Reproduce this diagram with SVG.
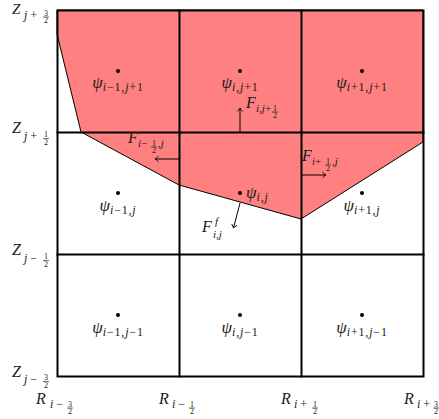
<svg xmlns="http://www.w3.org/2000/svg" width="439" height="419" viewBox="0 0 439 419">
<style>
text{font-family:"Liberation Serif","DejaVu Serif",serif;fill:#1a1a1a}
.m{font-size:17px;font-style:italic}
.z{font-size:16px;font-style:italic}
.f{font-size:16px;font-style:italic}
.s{font-size:12px;font-style:normal}
.sp{font-size:12px;font-style:normal;letter-spacing:0.8px}
.sf{font-size:11px;font-style:normal}
.i{font-style:italic}
.d{font-size:8px;font-style:normal;text-anchor:middle}
.fb{stroke:#1a1a1a;stroke-width:0.6}
.grid{stroke:#000;stroke-width:2;fill:none;stroke-linecap:square}
.arr{stroke:#000;stroke-width:1;fill:none;marker-end:url(#ah)}
.dot{fill:#000}
</style>
<defs>
<marker id="ah" markerWidth="8" markerHeight="8" viewBox="-5 -4 6 8" refX="0" refY="0" orient="auto" markerUnits="userSpaceOnUse">
<path d="M-3.5,-2.8 Q-1.2,-0.6 0,0 Q-1.2,0.6 -3.5,2.8" fill="none" stroke="#000" stroke-width="0.9"/>
</marker>
</defs>
<rect width="439" height="419" fill="#fff"/>
<polygon id="region" points="57,10 423,10 423,142 301,219 179,185 81,132 57,34" fill="#FF8080" stroke="#000" stroke-width="1"/>
<g id="grid" class="grid">
<rect x="57.5" y="10.5" width="366" height="366"/>
<line x1="179.5" y1="10.5" x2="179.5" y2="376.5"/>
<line x1="301.5" y1="10.5" x2="301.5" y2="376.5"/>
<line x1="57.5" y1="132.5" x2="423.5" y2="132.5"/>
<line x1="57.5" y1="254.5" x2="423.5" y2="254.5"/>
</g>
<g id="axis-z">
<text class="z" x="12" y="14" style="font-size:15px">Z</text><text class="s" x="24" y="19"><tspan class="i">j</tspan> +</text>
<text class="d" x="46" y="15.5">3</text><line class="fb" x1="43" y1="17" x2="49" y2="17"/><text class="d" x="46" y="23">2</text>
<text class="z" x="12" y="133">Z</text><text class="s" x="24" y="139.5"><tspan class="i">j</tspan> +</text>
<text class="d" x="46" y="137">1</text><line class="fb" x1="43" y1="138.5" x2="49" y2="138.5"/><text class="d" x="46" y="144.5">2</text>
<text class="z" x="12" y="255">Z</text><text class="s" x="24" y="261.5"><tspan class="i">j</tspan> −</text>
<text class="d" x="46" y="259">1</text><line class="fb" x1="43" y1="260.5" x2="49" y2="260.5"/><text class="d" x="46" y="266.5">2</text>
<text class="z" x="12" y="377">Z</text><text class="s" x="24" y="383"><tspan class="i">j</tspan> −</text>
<text class="d" x="46" y="380">3</text><line class="fb" x1="43" y1="381.5" x2="49" y2="381.5"/><text class="d" x="46" y="387.5">2</text>
</g>
<g id="axis-r">
<text class="z" x="36" y="404">R</text><text class="s" x="50" y="408"><tspan class="i">i</tspan> −</text>
<text class="d" x="70" y="406.5">3</text><line class="fb" x1="67" y1="408" x2="73" y2="408"/><text class="d" x="70" y="414">2</text>
<text class="z" x="159" y="404">R</text><text class="s" x="172" y="408"><tspan class="i">i</tspan> −</text>
<text class="d" x="192" y="406.5">1</text><line class="fb" x1="189" y1="408" x2="195" y2="408"/><text class="d" x="192" y="414">2</text>
<text class="z" x="281" y="404">R</text><text class="s" x="294" y="408"><tspan class="i">i</tspan> +</text>
<text class="d" x="315" y="406.5">1</text><line class="fb" x1="312" y1="408" x2="318" y2="408"/><text class="d" x="315" y="414">2</text>
<text class="z" x="404" y="404">R</text><text class="s" x="417" y="408"><tspan class="i">i</tspan> +</text>
<text class="d" x="436" y="406.5">3</text><line class="fb" x1="433" y1="408" x2="439" y2="408"/><text class="d" x="436" y="414">2</text>
</g>
<g id="psi-im1-jp1"><circle class="dot" cx="118" cy="71" r="2"/><text class="m" x="118" y="88" text-anchor="middle">ψ<tspan class="sp" dy="3"><tspan class="i">i</tspan>−1,<tspan class="i">j</tspan>+1</tspan></text></g>
<g id="psi-i-jp1"><circle class="dot" cx="240" cy="71" r="2"/><text class="m" x="240" y="88" text-anchor="middle">ψ<tspan class="sp" dy="3"><tspan class="i">i</tspan>,<tspan class="i">j</tspan>+1</tspan></text></g>
<g id="psi-ip1-jp1"><circle class="dot" cx="362" cy="71" r="2"/><text class="m" x="362" y="88" text-anchor="middle">ψ<tspan class="sp" dy="3"><tspan class="i">i</tspan>+1,<tspan class="i">j</tspan>+1</tspan></text></g>
<g id="psi-im1-j"><circle class="dot" cx="118" cy="193" r="2"/><text class="m" x="118" y="210.5" text-anchor="middle">ψ<tspan class="sp" dy="3"><tspan class="i">i</tspan>−1,<tspan class="i">j</tspan></tspan></text></g>
<g id="psi-i-j"><circle class="dot" cx="240" cy="193" r="2"/><text class="m" x="246" y="198">ψ<tspan class="sp" dy="3"><tspan class="i">i</tspan>,<tspan class="i">j</tspan></tspan></text></g>
<g id="psi-ip1-j"><circle class="dot" cx="362" cy="193" r="2"/><text class="m" x="362" y="210.5" text-anchor="middle">ψ<tspan class="sp" dy="3"><tspan class="i">i</tspan>+1,<tspan class="i">j</tspan></tspan></text></g>
<g id="psi-im1-jm1"><circle class="dot" cx="118" cy="315" r="2"/><text class="m" x="118" y="332.5" text-anchor="middle">ψ<tspan class="sp" dy="3"><tspan class="i">i</tspan>−1,<tspan class="i">j</tspan>−1</tspan></text></g>
<g id="psi-i-jm1"><circle class="dot" cx="240" cy="315" r="2"/><text class="m" x="240" y="332.5" text-anchor="middle">ψ<tspan class="sp" dy="3"><tspan class="i">i</tspan>,<tspan class="i">j</tspan>−1</tspan></text></g>
<g id="psi-ip1-jm1"><circle class="dot" cx="362" cy="315" r="2"/><text class="m" x="362" y="332.5" text-anchor="middle">ψ<tspan class="sp" dy="3"><tspan class="i">i</tspan>+1,<tspan class="i">j</tspan>−1</tspan></text></g>
<g id="connectors">
<line class="arr" x1="240" y1="132" x2="240" y2="108"/>
<line class="arr" x1="179" y1="159" x2="155" y2="159"/>
<line class="arr" x1="301" y1="175" x2="326" y2="175"/>
<line class="arr" x1="240" y1="203" x2="233.5" y2="228"/>
</g>
<g id="flux-labels">
<text class="f" x="246" y="108">F</text><text class="sf" x="256" y="112"><tspan class="i">i</tspan>,<tspan class="i">j</tspan>+</text>
<text class="d" x="275" y="110.5">1</text><line class="fb" x1="272" y1="112" x2="278" y2="112"/><text class="d" x="275" y="118">2</text>
<text class="f" x="128" y="143">F</text><text class="sf" x="138" y="147"><tspan class="i">i</tspan>−</text>
<text class="d" x="154" y="145.5">1</text><line class="fb" x1="151" y1="147" x2="157" y2="147"/><text class="d" x="154" y="153">2</text>
<text class="sf" x="158" y="147">,<tspan class="i">j</tspan></text>
<text class="f" x="302" y="161">F</text><text class="sf" x="312" y="165"><tspan class="i">i</tspan>+</text>
<text class="d" x="328" y="163.5">1</text><line class="fb" x1="325" y1="165" x2="331" y2="165"/><text class="d" x="328" y="171">2</text>
<text class="sf" x="332" y="165">,<tspan class="i">j</tspan></text>
<text class="f" x="202" y="232">F</text><text class="sf" x="215" y="225"><tspan class="i">f</tspan></text><text class="sf" x="213" y="238"><tspan class="i">i</tspan>,<tspan class="i">j</tspan></text>
</g>
</svg>
